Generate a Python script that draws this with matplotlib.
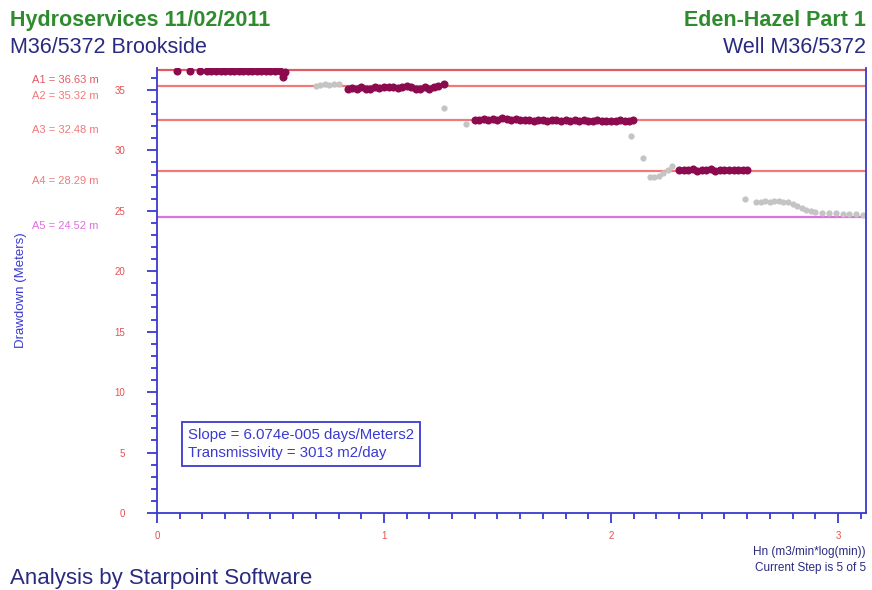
import matplotlib.pyplot as plt
from matplotlib.ticker import MultipleLocator

plt.rcParams['font.family'] = ['Liberation Sans', 'DejaVu Sans']

# Step levels of the fitted drawdown (m)
level_names = ["A1", "A2", "A3", "A4", "A5"]
level_values = [36.63, 35.32, 32.48, 28.29, 24.52]
level_colors = ["#e05a66", "#f07a7a", "#f07a7a", "#f07a7a", "#e070e0"]

# Points used in the step fits (dark) and the transitional readings (grey)
fit_x = [0.09, 0.145, 0.19, 0.22, 0.24, 0.26, 0.28, 0.30, 0.32, 0.34, 0.36, 0.38,
         0.40, 0.42, 0.44, 0.46, 0.48, 0.50, 0.52, 0.54, 0.555, 0.565,
         0.84, 0.86, 0.88, 0.90, 0.92, 0.94, 0.96, 0.98, 1.00, 1.02, 1.04, 1.06,
         1.08, 1.10, 1.12, 1.14, 1.16, 1.18, 1.20, 1.22, 1.24, 1.265,
         1.40, 1.42, 1.44, 1.46, 1.48, 1.50, 1.52, 1.54, 1.56, 1.58, 1.60, 1.62,
         1.64, 1.66, 1.68, 1.70, 1.72, 1.74, 1.76, 1.78, 1.80, 1.82, 1.84, 1.86,
         1.88, 1.90, 1.92, 1.94, 1.96, 1.98, 2.00, 2.02, 2.04, 2.06, 2.08, 2.095,
         2.30, 2.32, 2.34, 2.36, 2.38, 2.40, 2.42, 2.44, 2.46, 2.48, 2.50, 2.52,
         2.54, 2.56, 2.58, 2.60]
fit_y = [36.55, 36.55, 36.55, 36.6, 36.6, 36.6, 36.6, 36.6, 36.6, 36.6, 36.6, 36.6,
         36.6, 36.6, 36.6, 36.6, 36.55, 36.55, 36.55, 36.55, 36.1, 36.5,
         35.1, 35.15, 35.1, 35.2, 35.1, 35.05, 35.2, 35.15, 35.2, 35.2, 35.25, 35.15,
         35.2, 35.3, 35.2, 35.1, 35.05, 35.2, 35.05, 35.25, 35.3, 35.5,
         32.5, 32.55, 32.6, 32.55, 32.6, 32.5, 32.65, 32.6, 32.55, 32.6, 32.5, 32.55,
         32.5, 32.45, 32.55, 32.5, 32.45, 32.5, 32.55, 32.45, 32.5, 32.4, 32.5, 32.45,
         32.5, 32.4, 32.45, 32.5, 32.4, 32.45, 32.45, 32.4, 32.5, 32.45, 32.45, 32.55,
         28.35, 28.4, 28.35, 28.45, 28.3, 28.4, 28.35, 28.45, 28.3, 28.4, 28.35, 28.4,
         28.35, 28.4, 28.35, 28.4]

other_x = [0.70, 0.72, 0.74, 0.76, 0.78, 0.80, 1.265, 1.36,
           2.09, 2.14, 2.17, 2.19, 2.21, 2.23, 2.25, 2.27,
           2.59, 2.64, 2.66, 2.68, 2.70, 2.72, 2.74, 2.76, 2.78, 2.80, 2.82,
           2.84, 2.86, 2.88, 2.90, 2.93, 2.96, 2.99, 3.02, 3.05, 3.08, 3.11]
other_y = [35.35, 35.4, 35.45, 35.4, 35.5, 35.45, 33.5, 32.2,
           31.2, 29.4, 27.8, 27.8, 27.9, 28.1, 28.4, 28.7,
           26.0, 25.7, 25.75, 25.8, 25.75, 25.8, 25.8, 25.75, 25.7, 25.6, 25.4,
           25.2, 25.05, 24.95, 24.9, 24.85, 24.8, 24.8, 24.75, 24.75, 24.7, 24.65]

x_ticks = [0, 1, 2, 3]
y_ticks = [0, 5, 10, 15, 20, 25, 30, 35]

blue = "#3a3ad0"
navy = "#2a2a80"
green = "#2e8b2e"
red = "#e85050"

fig = plt.figure(figsize=(8.72, 5.9), dpi=100)
ax = fig.add_axes([0.180, 0.1305, 0.813, 0.754])

for name, val, col in zip(level_names, level_values, level_colors):
    ax.axhline(val, color=col, linewidth=1.6, zorder=1)

ax.plot(other_x, other_y, 'o', color="#c4c4c4", markersize=4.5,
        markeredgewidth=0, zorder=2)
ax.plot(fit_x, fit_y, 'o', color="#8c0a4e", markersize=5.8,
        markeredgewidth=0, zorder=3)

ax.set_xlim(0, 3.123)
ax.set_ylim(0, 36.8)
ax.set_xticks(x_ticks)
ax.set_yticks(y_ticks)
ax.xaxis.set_minor_locator(MultipleLocator(0.1))
ax.yaxis.set_minor_locator(MultipleLocator(1))
ax.tick_params(axis='both', which='major', direction='out', length=7, width=1.3,
               color=blue, labelcolor=red, labelsize=7)
ax.tick_params(axis='both', which='minor', direction='out', length=4, width=1.3,
               color=blue)
ax.tick_params(axis='y', pad=16)
ax.tick_params(axis='x', pad=6)

for side in ['left', 'bottom', 'right']:
    ax.spines[side].set_color(blue)
    ax.spines[side].set_linewidth(1.3)
ax.spines['top'].set_visible(False)

ax.set_ylabel("Drawdown (Meters)", color=blue, fontsize=9.5, labelpad=0)
ax.yaxis.set_label_coords(-0.184, 0.50)

# Level labels to the left of the axis, just under each line
for name, val, col in zip(level_names, level_values, level_colors):
    ax.text(-0.176, val - 0.8, f"{name} = {val:.2f} m",
            transform=ax.get_yaxis_transform(),
            color=col, fontsize=8, ha='left', va='center')

ax.text(0.137, 5.7, "Slope = 6.074e-005 days/Meters2\nTransmissivity = 3013 m2/day",
        color=blue, fontsize=10.8, ha='left', va='center', linespacing=1.3,
        bbox=dict(boxstyle='square,pad=0.42', facecolor='white', edgecolor=blue,
                  linewidth=1.3))

fig.text(0.012, 0.965, "Hydroservices 11/02/2011", color=green, fontsize=15.5,
         fontweight='bold', ha='left', va='center')
fig.text(0.012, 0.920, "M36/5372 Brookside", color=navy, fontsize=15.5,
         ha='left', va='center')
fig.text(0.993, 0.965, "Eden-Hazel Part 1", color=green, fontsize=15.5,
         fontweight='bold', ha='right', va='center')
fig.text(0.993, 0.920, "Well M36/5372", color=navy, fontsize=15.5,
         ha='right', va='center')
fig.text(0.012, 0.020, "Analysis by Starpoint Software", color=navy, fontsize=16,
         ha='left', va='center')
fig.text(0.993, 0.064, "Hn (m3/min*log(min))", color=navy, fontsize=8.5,
         ha='right', va='center')
fig.text(0.993, 0.037, "Current Step is 5 of 5", color=navy, fontsize=8.5,
         ha='right', va='center')

fig.savefig("out.png", dpi=100)
